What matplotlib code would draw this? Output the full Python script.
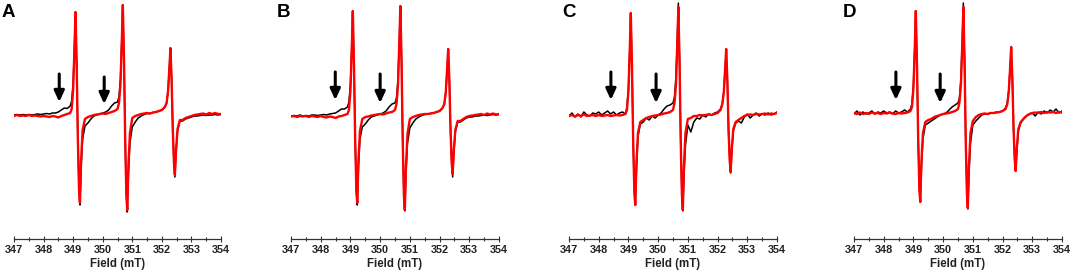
import matplotlib
matplotlib.use("Agg")
import matplotlib.pyplot as plt

plt.rcParams['font.family'] = ['Liberation Sans', 'DejaVu Sans']

# magnetic field grid (mT), denser around the three lines
field = [347.0, 347.1, 347.2, 347.3, 347.4, 347.5, 347.6, 347.7, 347.8, 347.9,
         348.0, 348.1, 348.2, 348.3, 348.4, 348.5, 348.6, 348.7, 348.8, 348.9,
         348.95, 349.0, 349.05, 349.08, 349.12, 349.16, 349.2, 349.23, 349.27, 349.32, 349.4,
         349.5, 349.6, 349.7, 349.8, 349.9, 350.0, 350.1, 350.2, 350.3, 350.4, 350.5,
         350.55, 350.6, 350.65, 350.68, 350.72, 350.76, 350.8, 350.83, 350.87, 350.92, 351.0,
         351.1, 351.2, 351.3, 351.4, 351.5, 351.6, 351.7, 351.8, 351.9, 352.0, 352.1,
         352.16, 352.21, 352.26, 352.29, 352.33, 352.37, 352.41, 352.44, 352.48, 352.53, 352.61,
         352.7, 352.8, 352.9, 353.0, 353.1, 353.2, 353.3, 353.4, 353.5, 353.6, 353.7,
         353.8, 353.9, 354.0]

# EPR intensity (arb. units)
black_a = [0, 0.5, 0, 0.5, 0, 0.5, 0, 0.5, 1, 0.5, 1, 1.5, 1, 2, 2, 3, 5, 7, 6.5, 9,
           14, 32, 74, 103, 50, -25, -75, -90, -52, -24, -11,
           -8, -4, -1, 0, 1, 2, 3, 5, 9, 12, 13,
           18, 36, 80, 110, 55, -25, -80, -97, -58, -28, -12,
           -7, -3, -1, 0.5, 1.5, 1.5, 2.5, 3, 4, 5, 8,
           12, 24, 50, 67, 35, -15, -48, -62, -38, -16, -6,
           -6, -4, -3, -2, -1, -1, -0.5, 0, -0.5, 0, 0, 0.5, 0, 0.5]
red_a = [-1, 0, -1, -0.5, -1, 0, -1, -0.5, -1, -1.5, -1, -1.5, -2, -1, -1.5, -2.5, -1, 0, 1, 2,
         6, 25, 72, 103, 50, -25, -75, -88, -45, -15, -4,
         -2, -1, 0, 0.5, 1, 1.5, 1, 2, 3, 4, 6,
         12, 30, 78, 110, 55, -25, -80, -95, -50, -18, -3,
         -1, 0, 1, 1.5, 2, 1.5, 2.5, 3, 4, 5, 8,
         12, 24, 50, 67, 35, -15, -48, -60, -35, -14, -5,
         -5, -3, -2, -1, 0, 0.5, 1, 1.5, 0.5, 2, 1, 2, 1, 1]

black_b = [-1, -0.5, -1, 0, -1, -0.5, -1, 0, 0, -0.5, 0, 0.5, 0, 1, 1.5, 2, 4, 6, 6, 8,
           13, 31, 73, 104, 50, -25, -76, -90, -52, -24, -12,
           -9, -5, -2, -1, 0, 1, 2, 4, 8, 11, 12,
           17, 35, 79, 109, 54, -26, -81, -96, -58, -28, -13,
           -8, -4, -2, -0.5, 0.5, 1, 1.5, 2, 3, 4, 7,
           11, 23, 49, 66, 34, -16, -49, -62, -38, -17, -7,
           -7, -5, -3, -2, -2, -1, -1, -0.5, 0, -0.5, 0, 0.5, 0, 0.5]
red_b = [-1.5, -1, -2, -1, -1.5, -1, -2, -1, -1.5, -2, -1, -2, -2.5, -1.5, -2, -3, -1.5, -1, 0, 1,
         5, 24, 71, 104, 50, -25, -76, -88, -45, -16, -4,
         -2, -1.5, -0.5, 0, 0.5, 1, 0.5, 1.5, 2.5, 3, 5,
         11, 29, 77, 109, 54, -26, -81, -95, -50, -19, -4,
         -2, -1, 0, 0.5, 1, 1, 1.5, 2, 3, 4, 7,
         11, 23, 49, 66, 34, -16, -49, -59, -35, -15, -6,
         -6, -4, -2, -1, -0.5, 0, 0.5, 1, 0, 1.5, 0.5, 1.5, 0.5, 1]

black_c = [-1, 2, -2, 1, -2, 3, 0, -1, 2, 1, 3, 0, 2, 4, 1, 3, 0, 2, 3, 1,
           8, 26, 70, 102, 48, -27, -77, -90, -55, -22, -9,
           -7, -3, -5, -1, -3, 0, 2, 6, 9, 10, 12,
           18, 38, 82, 112, 56, -26, -80, -96, -60, -30, -10,
           -17, -7, -3, -4, 0, -2, 1, 0, 2, 3, 6,
           11, 23, 49, 66, 34, -16, -46, -58, -36, -16, -8,
           -6, -8, -2, 1, -3, 0, 2, -1, 1, 0, 2, 0, 1, 3]
red_c = [-1, 0, -1.5, 0, -1, 0.5, -1, -0.5, 0, -1, 0, -1, -0.5, 0, -1, -0.5, 0, -0.5, 0, 1,
         5, 24, 70, 102, 48, -27, -77, -90, -48, -18, -7,
         -5, -3, -2, -1, -0.5, 0, 0.5, 1.5, 2, 3, 5,
         12, 30, 76, 108, 54, -26, -80, -95, -50, -18, -4,
         -3, -1, -1, 0, -0.5, 0, 0.5, 0, 1, 2, 5,
         11, 23, 49, 66, 34, -16, -46, -57, -33, -14, -7,
         -5, -3, -1, 0, 0.5, 0, 1, 0.5, 1, 1.5, 0.5, 1.5, 1, 2]

black_d = [1, 4, 0, 3, 1, 2, 4, 1, 3, 2, 4, 2, 3, 1, 4, 2, 3, 5, 3, 6,
           11, 30, 72, 104, 50, -24, -74, -87, -52, -24, -10,
           -8, -6, -4, -2, 0, 1, 2, 5, 8, 10, 12,
           17, 37, 80, 112, 56, -24, -78, -94, -58, -28, -10,
           -6, -3, 0, 1, 1, 2, 2, 3, 3, 4, 7,
           12, 25, 51, 68, 36, -14, -45, -56, -36, -16, -8,
           -4, -1, 1, 2, -1, 3, 1, 4, 2, 5, 3, 6, 2, 4]
red_d = [2, 1, 2.5, 1, 2, 1, 2.5, 1.5, 2, 1, 2, 1.5, 2.5, 1.5, 1, 2, 1.5, 2, 2.5, 4,
         8, 27, 71, 104, 50, -24, -74, -87, -46, -18, -7,
         -5, -4, -2, -1, 0, 1, 1.5, 2, 3, 4, 6,
         13, 31, 76, 108, 54, -25, -78, -93, -50, -18, -6,
         -2, 0, 1, 1.5, 1, 2, 2, 2.5, 3, 4, 6,
         11, 24, 50, 68, 36, -14, -45, -56, -33, -14, -7,
         -4, -1, 1, 2, 2.5, 2, 3, 2, 3, 2.5, 3, 2, 3, 2.5]

panel_labels = ['A', 'B', 'C', 'D']
arrows_a = [(348.53, 41, 13), (350.05, 38, 11)]
arrows_b = [(348.49, 43, 15), (350.0, 41, 12)]
arrows_c = [(348.41, 43, 15), (349.93, 41, 12)]
arrows_d = [(348.41, 43, 15), (349.9, 41, 12)]
ticks = [347, 348, 349, 350, 351, 352, 353, 354]

panels = [(black_a, red_a, arrows_a), (black_b, red_b, arrows_b),
          (black_c, red_c, arrows_c), (black_d, red_d, arrows_d)]

W, H = 1072, 272
fig = plt.figure(figsize=(W / 100, H / 100), dpi=100)

# axes left/right edges in pixels, label x positions
ax_px = [(14, 221), (291, 499), (569, 777), (854, 1062)]
lab_px = [2, 277, 562, 843]

for i, (blk, red, arr) in enumerate(panels):
    x0, x1 = ax_px[i]
    ax = fig.add_axes([x0 / W, (H - 239) / H, (x1 - x0) / W, 239 / H])
    ax.plot(field, blk, color='black', lw=1.1)
    ax.plot(field, red, color='#ff0000', lw=1.7)
    for xa, ytop, ytip in arr:
        ax.annotate('', xy=(xa, ytip), xytext=(xa, ytop),
                    arrowprops=dict(arrowstyle='-|>,head_width=0.3,head_length=0.65',
                                    lw=2.2, color='black', shrinkA=0, shrinkB=0))
    ax.set_xlim(347, 354)
    ax.set_ylim(-124, 115)
    for s in ['left', 'right', 'top']:
        ax.spines[s].set_visible(False)
    ax.spines['bottom'].set_color('#333333')
    ax.spines['bottom'].set_linewidth(0.9)
    ax.set_yticks([])
    ax.set_xticks(ticks)
    ax.set_xticks([t + 0.5 for t in ticks[:-1]], minor=True)
    ax.tick_params(axis='x', which='major', direction='inout', length=4, width=0.8,
                   color='#333333', labelsize=7.8, pad=2)
    ax.tick_params(axis='x', which='minor', direction='inout', length=3, width=0.8,
                   color='#333333')
    for lbl in ax.get_xticklabels():
        lbl.set_fontweight('bold')
        lbl.set_color('#222222')
    ax.set_xlabel('Field (mT)', fontsize=8.3, fontweight='bold', color='#222222', labelpad=2.5)
    fig.text(lab_px[i] / W, 1 - 4 / H, panel_labels[i], fontsize=13.5,
             fontweight='bold', va='top', ha='left')

fig.savefig('out.png', dpi=100)
